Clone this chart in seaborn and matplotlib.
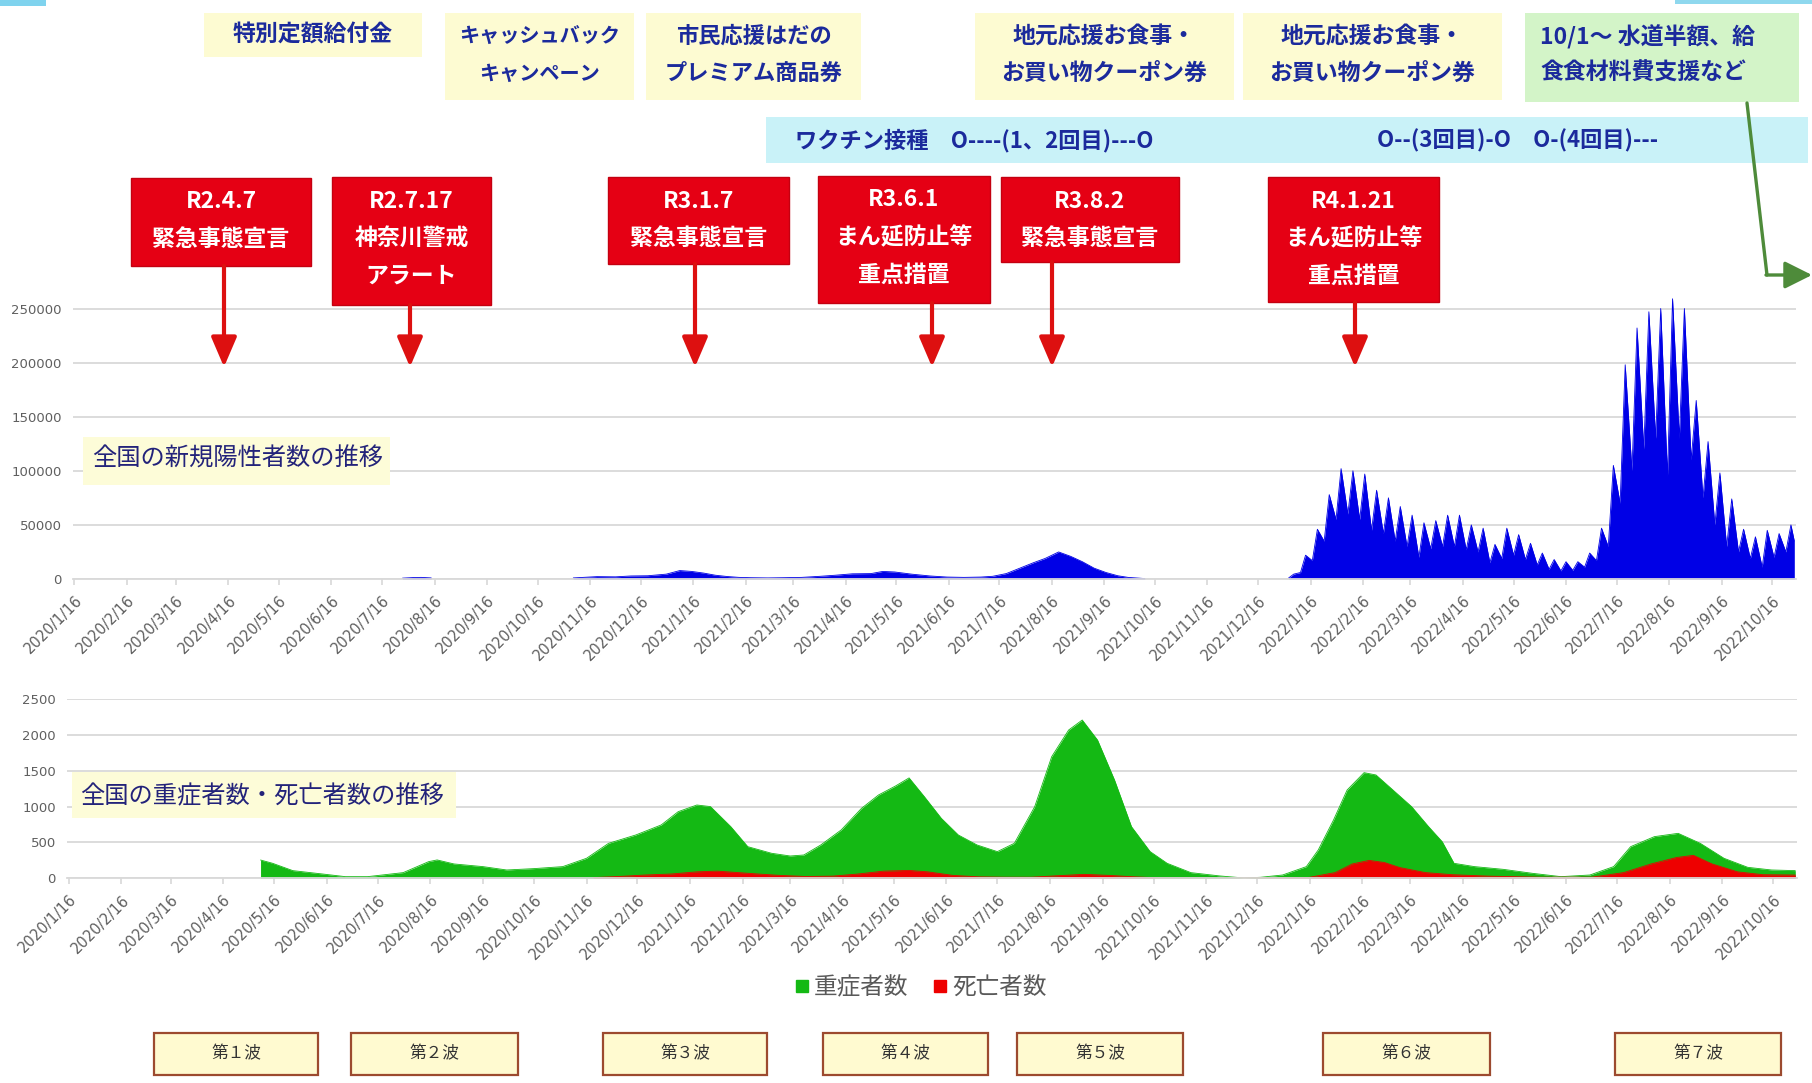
import pandas as pd
import matplotlib
matplotlib.use("Agg")
import matplotlib.pyplot as plt
from matplotlib.patches import Rectangle, FancyArrowPatch
from matplotlib.lines import Line2D
import seaborn as sns

# ---- data ----
# new positive cases (whole country)
cases_2020_dates = ["2020-07-28", "2020-08-03", "2020-08-08", "2020-08-14"]
cases_2020 = [800, 1300, 1500, 1000]

cases_mid_dates = ["2020-11-06", "2020-11-20", "2020-12-01", "2020-12-10", "2020-12-20", "2020-12-31",
                   "2021-01-08", "2021-01-15", "2021-01-22", "2021-01-29", "2021-02-05", "2021-02-12",
                   "2021-02-19", "2021-03-01", "2021-03-10", "2021-03-21", "2021-04-01", "2021-04-10",
                   "2021-04-20", "2021-05-01", "2021-05-08", "2021-05-15", "2021-05-25", "2021-06-05",
                   "2021-06-15", "2021-06-25", "2021-07-05", "2021-07-12", "2021-07-20", "2021-07-28",
                   "2021-08-05", "2021-08-12", "2021-08-20", "2021-08-27", "2021-09-03", "2021-09-10",
                   "2021-09-17", "2021-09-24", "2021-09-30", "2021-10-10"]
cases_mid = [1000, 2200, 2000, 2800, 3000, 4500, 7800, 7000, 5500, 3500,
             2300, 1500, 1200, 1000, 1200, 1500, 2500, 3500, 4800, 5000,
             7000, 6500, 4500, 2800, 1800, 1500, 1800, 2500, 5000, 10000,
             15000, 19000, 25000, 21000, 16000, 10000, 6000, 3000, 1500, 400]

# 2022: weekly low (Monday) and high (Thursday) from week of 2022-01-03
wk_low = [1000, 6000, 17000, 35000, 55000, 60000, 55000, 45000, 42000, 35000,
          30000, 20000, 28000, 30000, 30000, 27000, 25000, 15000, 19000, 22000,
          18000, 13000, 9000, 7500, 8000, 11000, 17000, 30000, 70000, 100000,
          120000, 130000, 95000, 130000, 110000, 75000, 50000, 30000, 25000, 19000,
          11000, 20000, 25000]
wk_high = [4500, 22000, 46000, 78000, 102000, 100000, 97000, 82000, 75000, 67000,
           59000, 52000, 54000, 59000, 59000, 50000, 47000, 32000, 47000, 41000,
           33000, 24000, 18000, 16000, 16000, 24000, 47000, 105000, 198000, 232000,
           247000, 250000, 259000, 250000, 165000, 127000, 98000, 74000, 46000, 39000,
           45000, 42000, 50000]
cases_last = ("2022-10-29", 35000)

# severe cases
severe_dates = ["2020-05-08", "2020-05-15", "2020-05-27", "2020-06-15", "2020-06-27", "2020-07-10",
                "2020-07-31", "2020-08-15", "2020-08-20", "2020-08-30", "2020-09-16", "2020-09-30",
                "2020-10-16", "2020-11-02", "2020-11-16", "2020-11-29", "2020-12-15", "2020-12-30",
                "2021-01-09", "2021-01-20", "2021-01-28", "2021-02-09", "2021-02-19", "2021-03-05",
                "2021-03-16", "2021-03-24", "2021-04-03", "2021-04-15", "2021-04-27", "2021-05-07",
                "2021-05-17", "2021-05-25", "2021-06-03", "2021-06-13", "2021-06-23", "2021-07-04",
                "2021-07-16", "2021-07-26", "2021-08-07", "2021-08-17", "2021-08-27", "2021-09-04",
                "2021-09-13", "2021-09-23", "2021-10-03", "2021-10-14", "2021-10-24", "2021-11-07",
                "2021-11-24", "2021-12-08", "2021-12-18", "2021-12-31", "2022-01-14", "2022-01-21",
                "2022-01-30", "2022-02-07", "2022-02-17", "2022-02-24", "2022-03-06", "2022-03-17",
                "2022-03-27", "2022-04-04", "2022-04-11", "2022-04-23", "2022-05-10", "2022-05-27",
                "2022-06-13", "2022-06-30", "2022-07-14", "2022-07-24", "2022-08-07", "2022-08-21",
                "2022-09-03", "2022-09-17", "2022-10-01", "2022-10-15", "2022-10-29"]
severe = [255, 210, 107, 56, 23, 23, 79, 232, 256, 200, 163, 116, 135, 163, 279, 488, 604, 744,
          929, 1022, 1000, 720, 441, 349, 311, 325, 465, 674, 976, 1162, 1287, 1400, 1138, 836,
          604, 465, 372, 488, 999, 1696, 2068, 2207, 1928, 1371, 720, 372, 209, 79, 33, 5, 14, 46,
          163, 395, 813, 1231, 1473, 1441, 1231, 999, 720, 511, 209, 163, 125, 70, 23, 46,
          163, 441, 581, 627, 488, 279, 153, 116, 107]

# deaths
death_dates = ["2020-11-20", "2020-12-05", "2020-12-20", "2021-01-05", "2021-01-20", "2021-02-01",
               "2021-02-10", "2021-02-25", "2021-03-10", "2021-03-25", "2021-04-10", "2021-04-25",
               "2021-05-10", "2021-05-25", "2021-06-05", "2021-06-20", "2021-07-05", "2021-07-20",
               "2021-08-05", "2021-08-20", "2021-09-05", "2021-09-20", "2021-10-05", "2021-10-20",
               "2021-11-05", "2021-12-01", "2022-01-15", "2022-01-31", "2022-02-10", "2022-02-20",
               "2022-03-01", "2022-03-10", "2022-03-25", "2022-04-10", "2022-05-01", "2022-06-01",
               "2022-07-01", "2022-07-20", "2022-08-05", "2022-08-20", "2022-08-30", "2022-09-10",
               "2022-09-25", "2022-10-10", "2022-10-29"]
deaths = [10, 25, 45, 60, 90, 100, 85, 60, 40, 25, 30, 60, 100, 110, 90, 40, 20, 15, 15, 35,
          55, 40, 20, 5, 3, 2, 10, 80, 200, 250, 220, 150, 80, 50, 30, 15, 15, 80, 200, 290,
          320, 200, 90, 50, 45]

waves = ["第１波", "第２波", "第３波", "第４波", "第５波", "第６波", "第７波"]

# ---- build tables ----
mondays = pd.date_range("2022-01-03", periods=len(wk_low), freq="7D")
d22, v22 = [], []
for m, lo, hi in zip(mondays, wk_low, wk_high):
    d22 += [m, m + pd.Timedelta(days=3)]
    v22 += [lo, hi]
d22.append(pd.Timestamp(cases_last[0]))
v22.append(cases_last[1])

cases_df = pd.concat([
    pd.DataFrame({"date": pd.to_datetime(cases_2020_dates), "cases": cases_2020, "seg": 0}),
    pd.DataFrame({"date": pd.to_datetime(cases_mid_dates), "cases": cases_mid, "seg": 1}),
    pd.DataFrame({"date": d22, "cases": v22, "seg": 2}),
], ignore_index=True)
severe_df = pd.DataFrame({"date": pd.to_datetime(severe_dates), "n": severe})
death_df = pd.DataFrame({"date": pd.to_datetime(death_dates), "n": deaths})

BLUE = "#0000e6"
GREEN = "#14b914"
DRED = "#ee0000"
NAVY = "#1b2a9c"
BOXRED = "#e50014"
GRID = "#d9d9d9"
TICK = "#5f5f5f"

sns.set_theme(style="white")
plt.rcParams["font.family"] = ["Noto Sans CJK JP", "DejaVu Sans"]

W, H = 1812, 1083
fig = plt.figure(figsize=(W / 100, H / 100), dpi=100)


def fx(x):
    return x / W


def fy(y):
    return 1 - y / H


def box(x0, y0, x1, y1, fc, ec="none", lw=0, z=3):
    fig.add_artist(Rectangle((fx(x0), fy(y1)), (x1 - x0) / W, (y1 - y0) / H,
                             transform=fig.transFigure, facecolor=fc, edgecolor=ec,
                             linewidth=lw, zorder=z))


def label(x, y, s, ha="center", **kw):
    fig.text(fx(x), fy(y), s, ha=ha, va="center", zorder=5, **kw)


xmin, xmax = pd.Timestamp("2020-01-15"), pd.Timestamp("2022-10-30")
ticks = [pd.Timestamp("2020-01-16") + pd.DateOffset(months=i) for i in range(34)]
tick_labels = [f"{t.year}/{t.month}/{t.day}" for t in ticks]

ax1 = fig.add_axes([fx(72.7), fy(579), (1796 - 72.7) / W, (579 - 297.7) / H])
ax2 = fig.add_axes([fx(67), fy(878.3), (1797 - 67) / W, 179.3 / H])

# top: new cases
for seg, g in cases_df.groupby("seg"):
    ax1.fill_between(g["date"], g["cases"], color=BLUE, lw=0)
sns.lineplot(data=cases_df, x="date", y="cases", units="seg", estimator=None,
             color=BLUE, lw=0.6, ax=ax1)
ax1.set_ylim(0, 260000)
ax1.set_yticks(range(0, 250001, 50000))

# bottom: severe + deaths
ax2.fill_between(severe_df["date"], severe_df["n"], color=GREEN, lw=0)
sns.lineplot(data=severe_df, x="date", y="n", color=GREEN, lw=0.6, ax=ax2)
ax2.fill_between(death_df["date"], death_df["n"], color=DRED, lw=0)
sns.lineplot(data=death_df, x="date", y="n", color=DRED, lw=0.6, ax=ax2)
ax2.set_ylim(0, 2500)
ax2.set_yticks(range(0, 2501, 500))

for ax in (ax1, ax2):
    ax.set_xlim(xmin, xmax)
    ax.set_xticks(ticks)
    ax.set_xticklabels(tick_labels, rotation=45, ha="right", rotation_mode="anchor",
                       fontsize=10.5, color=TICK, fontfamily="DejaVu Sans")
    for t in ax.get_yticklabels():
        t.set_fontfamily("DejaVu Sans")
        t.set_fontsize(9.5)
        t.set_color(TICK)
    ax.set_xlabel("")
    ax.set_ylabel("")
    ax.yaxis.grid(True, color=GRID, lw=1.3)
    ax.xaxis.grid(False)
    ax.set_axisbelow(True)
    for s in ("top", "right", "left"):
        ax.spines[s].set_visible(False)
    ax.spines["bottom"].set_color(GRID)
    ax.spines["bottom"].set_linewidth(1.3)
    ax.tick_params(axis="x", bottom=True, length=4, color=GRID, pad=6)
    ax.tick_params(axis="y", length=0, pad=8)
    ax.set_facecolor("none")

# legend
handles = [Line2D([], [], marker="s", ls="", color=GREEN, markersize=9),
           Line2D([], [], marker="s", ls="", color=DRED, markersize=9)]
fig.legend(handles, ["重症者数", "死亡者数"], loc="center", bbox_to_anchor=(fx(920), fy(988)),
           ncol=2, frameon=False, fontsize=17, handlelength=0.7, handletextpad=0.15,
           columnspacing=1.0, labelcolor="#595959")

# wave boxes
wave_x = [(154, 318), (351, 518), (603, 767), (823, 988), (1017, 1183), (1323, 1490), (1615, 1781)]
for (x0, x1), w in zip(wave_x, waves):
    box(x0, 1033, x1, 1075, "#fffad0", ec="#9c4a2f", lw=1.6)
    label((x0 + x1) / 2, 1054, w, fontsize=12, color="#333333")

# panel titles
box(83, 437, 390, 485, "#fdfcd8")
label(92, 459, "全国の新規陽性者数の推移", ha="left", fontsize=17.5, color="#23237a")
box(72, 772, 456, 818, "#fdfcd8")
label(80, 796, "全国の重症者数・死亡者数の推移", ha="left", fontsize=17.5, color="#23237a")

# support measures (top boxes)
box(204, 13, 422, 57, "#fdfbd2")
label(313, 35, "特別定額給付金", fontsize=16.5, color=NAVY, fontweight="bold")
for x0, x1, l1, l2, fs in [(445, 634, "キャッシュバック", "キャンペーン", 14.5),
                           (646, 861, "市民応援はだの", "プレミアム商品券", 16),
                           (975, 1234, "地元応援お食事・", "お買い物クーポン券", 16.5),
                           (1243, 1502, "地元応援お食事・", "お買い物クーポン券", 16.5)]:
    box(x0, 13, x1, 100, "#fdfbd2")
    label((x0 + x1) / 2, 36, l1, fontsize=fs, color=NAVY, fontweight="bold")
    label((x0 + x1) / 2, 73, l2, fontsize=fs, color=NAVY, fontweight="bold")
box(1525, 13, 1799, 102, "#d3f4c8")
label(1540, 37, "10/1～ 水道半額、給", ha="left", fontsize=16.5, color=NAVY, fontweight="bold")
label(1540, 73, "食食材料費支援など", ha="left", fontsize=16.5, color=NAVY, fontweight="bold")

# vaccination band
box(766, 117, 1808, 163, "#c9f2f8")
label(795, 141, "ワクチン接種　O----(1、2回目)---O", ha="left", fontsize=16, color=NAVY,
      fontweight="bold")
label(1377, 141, "O--(3回目)-O　O-(4回目)---", ha="left", fontsize=16, color=NAVY,
      fontweight="bold")

# screenshot edge fragments
box(0, 0, 46, 6, "#7fd3ee")
box(1675, 0, 1812, 4, "#8fd8ee")

# red declaration boxes with arrows
decl = [
    (131, 311, 178, 266, ["R2.4.7", "緊急事態宣言"], 224),
    (332, 491, 177, 305, ["R2.7.17", "神奈川警戒", "アラート"], 410),
    (608, 789, 177, 264, ["R3.1.7", "緊急事態宣言"], 695),
    (818, 990, 176, 303, ["R3.6.1", "まん延防止等", "重点措置"], 932),
    (1001, 1179, 177, 262, ["R3.8.2", "緊急事態宣言"], 1052),
    (1268, 1439, 177, 302, ["R4.1.21", "まん延防止等", "重点措置"], 1355),
]
for x0, x1, y0, y1, lines, ax_x in decl:
    box(x0, y0, x1, y1, BOXRED, ec="#c40010", lw=1, z=4)
    for i, s in enumerate(lines):
        label((x0 + x1) / 2, y0 + 24 + 37.6 * i, s, fontsize=16.5, color="white",
              fontweight="bold")
    fig.add_artist(FancyArrowPatch((fx(ax_x), fy(y1)), (fx(ax_x), fy(367)),
                                   transform=fig.transFigure, color="#dd1010",
                                   arrowstyle="-|>,head_length=0.7,head_width=0.3",
                                   mutation_scale=26, lw=3, zorder=4,
                                   shrinkA=0, shrinkB=0))

# green arrow from the last support box
fig.add_artist(Line2D([fx(1747), fx(1767)], [fy(103), fy(275)], transform=fig.transFigure,
                      color="#4e8b3a", lw=2.4, zorder=6))
fig.add_artist(FancyArrowPatch((fx(1766), fy(275)), (fx(1812), fy(275)),
                               transform=fig.transFigure, color="#4e8b3a",
                               arrowstyle="-|>,head_length=0.7,head_width=0.35",
                               mutation_scale=24, lw=2.4, zorder=6,
                               shrinkA=0, shrinkB=0))

fig.savefig("out.png", dpi=100, facecolor="white")
